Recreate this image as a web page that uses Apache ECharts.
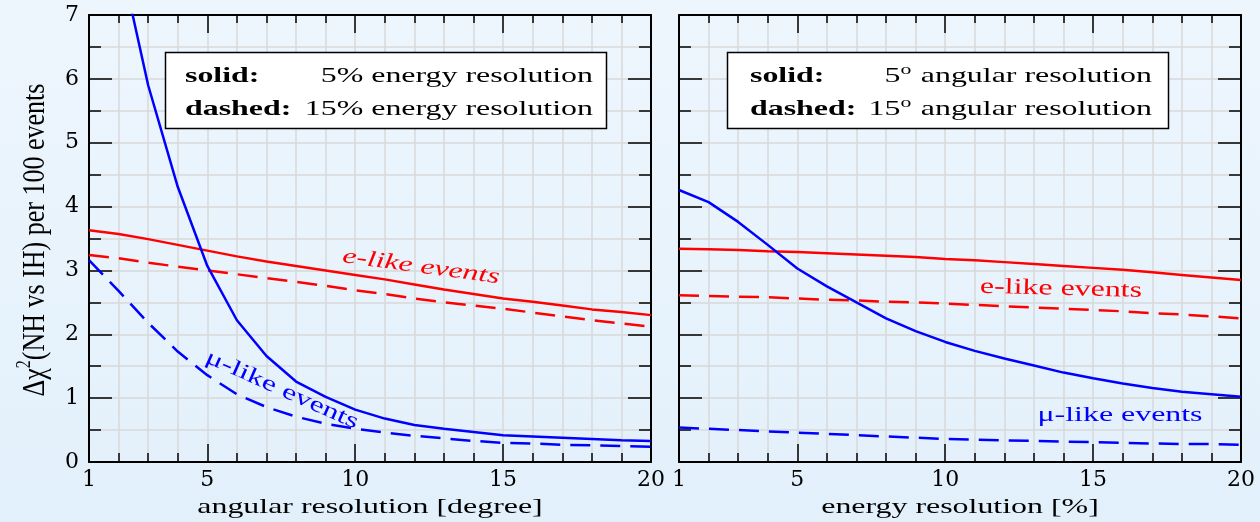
<!DOCTYPE html>
<html><head><meta charset="utf-8">
<script src="https://cdn.jsdelivr.net/npm/echarts@6/dist/echarts.min.js"></script>
<style>html,body{margin:0;padding:0;background:#e8f3fc}#c{width:1260px;height:522px}</style>
</head><body><div id="c"></div>
<script>
// ---- data ----
const resolution = [1,2,3,4,5,6,7,8,9,10,11,12,13,14,15,16,17,18,19,20];
// left panel: x = angular resolution [degree]
const angMuSolid  = [null,8.0,5.9,4.31,3.07,2.22,1.66,1.26,1.02,0.82,0.68,0.58,0.52,0.47,0.42,0.40,0.38,0.36,0.34,0.33];
const angMuDashed = [3.16,2.68,2.18,1.73,1.36,1.06,0.86,0.71,0.60,0.52,0.46,0.41,0.37,0.33,0.30,0.29,0.27,0.26,0.25,0.24];
const angESolid   = [3.63,3.57,3.49,3.40,3.31,3.22,3.14,3.07,3.00,2.93,2.86,2.78,2.70,2.63,2.56,2.51,2.45,2.39,2.35,2.30];
const angEDashed  = [3.24,3.19,3.12,3.06,3.00,2.94,2.88,2.82,2.76,2.69,2.63,2.56,2.50,2.45,2.40,2.34,2.28,2.22,2.17,2.12];
// right panel: x = energy resolution [%]
const enMuSolid   = [4.26,4.07,3.76,3.40,3.03,2.75,2.50,2.25,2.05,1.88,1.74,1.62,1.51,1.40,1.31,1.23,1.16,1.10,1.06,1.02];
const enMuDashed  = [0.54,0.52,0.50,0.48,0.46,0.44,0.42,0.40,0.38,0.36,0.35,0.34,0.33,0.32,0.31,0.30,0.29,0.28,0.28,0.27];
const enESolid    = [3.34,3.33,3.32,3.30,3.29,3.27,3.25,3.23,3.21,3.18,3.16,3.13,3.10,3.07,3.04,3.01,2.97,2.93,2.89,2.85];
const enEDashed   = [2.61,2.60,2.59,2.58,2.56,2.54,2.53,2.51,2.50,2.48,2.46,2.44,2.42,2.40,2.38,2.36,2.33,2.31,2.28,2.25];
const xLabelValues = [1,5,10,15,20];
const xMajorTicks = [5,10,15];
const xTitles = ['angular resolution [degree]','energy resolution [%]'];

const SERIF = '"Liberation Serif","Times New Roman",serif';
const WIDE = '"DejaVu Serif",serif';
const SX = 1.45; // horizontal stretch of the reference's lettering
const RED = '#ff0000', BLUE = '#0000ff', GRIDC = '#d9d9d9';
const pairs = ys => resolution.map((x,i)=>[x, ys[i]]);

const xAxes = [], yAxes = [];
[0,1].forEach(g=>{
  const base = {gridIndex:g, type:'value', min:1, max:20, interval:1};
  xAxes.push(Object.assign({}, base, {position:'bottom',
    axisLine:{show:true,onZero:false,lineStyle:{color:'#000',width:2}},
    axisTick:{inside:true,length:9,lineStyle:{color:'#000',width:1.5}},
    axisLabel:{show:false}, splitLine:{show:true,lineStyle:{color:GRIDC,width:1.5}}}));
  xAxes.push(Object.assign({}, base, {position:'bottom',
    axisLine:{show:false,onZero:false},
    axisTick:{inside:true,length:18,customValues:xMajorTicks,lineStyle:{color:'#000',width:1.5}},
    axisLabel:{customValues:xLabelValues,fontSize:22,fontFamily:WIDE,color:'#000',margin:7},
    splitLine:{show:false}}));
  xAxes.push(Object.assign({}, base, {position:'top',
    axisLine:{show:true,onZero:false,lineStyle:{color:'#000',width:2}},
    axisTick:{inside:true,length:8,lineStyle:{color:'#000',width:1.5}},
    axisLabel:{show:false}, splitLine:{show:false}}));
  xAxes.push(Object.assign({}, base, {position:'top',
    axisLine:{show:false,onZero:false},
    axisTick:{inside:true,length:18,customValues:xMajorTicks,lineStyle:{color:'#000',width:1.5}},
    axisLabel:{show:false}, splitLine:{show:false}}));
  const ybase = {gridIndex:g, type:'value', min:0, max:7, interval:1};
  yAxes.push(Object.assign({}, ybase, {position:'left',
    axisLine:{show:true,onZero:false,lineStyle:{color:'#000',width:2}},
    axisTick:{inside:true,length:23,lineStyle:{color:'#000',width:1.5}},
    minorTick:{show:true,splitNumber:2,length:12,lineStyle:{color:'#000',width:1.5}},
    splitLine:{show:true,lineStyle:{color:GRIDC,width:1.5}},
    minorSplitLine:{show:true,lineStyle:{color:GRIDC,width:1.5}},
    axisLabel:{show:g===0,fontSize:22,fontFamily:WIDE,color:'#000',margin:10}}));
  yAxes.push(Object.assign({}, ybase, {position:'right',
    axisLine:{show:true,onZero:false,lineStyle:{color:'#000',width:2}},
    axisTick:{inside:true,length:23,lineStyle:{color:'#000',width:1.5}},
    minorTick:{show:true,splitNumber:2,length:12,lineStyle:{color:'#000',width:1.5}},
    splitLine:{show:false}, axisLabel:{show:false}}));
});

function line(data, xi, yi, color, dashed){
  return {type:'line', xAxisIndex:xi, yAxisIndex:yi, data:pairs(data), symbol:'none',
    silent:true, animation:false, z:5,
    lineStyle:{color:color,width:2.5,type:dashed?[20,10]:'solid'}};
}

const txt = (x,y,text,opt,extra) => Object.assign({type:'text', x:x, y:y, z:120, scaleX:SX,
  style:Object.assign({text:text, fontSize:22, fontFamily:SERIF, fill:'#000', verticalAlign:'middle'}, opt||{})}, extra||{});
const supRich = {t:{fontSize:22,fontFamily:SERIF,fill:'#000'},s:{fontSize:15,fontFamily:SERIF,fill:'#000',padding:[0,1,12,0]}};
const deg = Math.PI/180;

const chart = echarts.init(document.getElementById('c'), null, {renderer:'canvas'});
chart.setOption({
  animation:false,
  backgroundColor:{type:'linear',x:0,y:0,x2:0,y2:1,colorStops:[{offset:0,color:'#eef6fd'},{offset:1,color:'#e2f0fb'}]},
  grid:[
    {left:89, right:609, top:15, bottom:60, outerBoundsMode:'none'},
    {left:679, right:19, top:15, bottom:60, outerBoundsMode:'none'}
  ],
  xAxis:xAxes, yAxis:yAxes,
  series:[
    line(angESolid,0,0,RED,false), line(angEDashed,0,0,RED,true),
    line(angMuSolid,0,0,BLUE,false), line(angMuDashed,0,0,BLUE,true),
    line(enESolid,4,2,RED,false), line(enEDashed,4,2,RED,true),
    line(enMuSolid,4,2,BLUE,false), line(enMuDashed,4,2,BLUE,true)
  ],
  graphic:[
    {type:'rect', z:110, shape:{x:165.5,y:52.5,width:441,height:76}, style:{fill:'#fff',stroke:'#000',lineWidth:1.5}},
    txt(185,76,'solid:',{fontWeight:'bold'}),
    txt(185,109,'dashed:',{fontWeight:'bold'}),
    txt(593,76,'5% energy resolution',{textAlign:'right'}),
    txt(593,109,'15% energy resolution',{textAlign:'right'}),
    {type:'rect', z:110, shape:{x:727.5,y:52.5,width:441,height:76}, style:{fill:'#fff',stroke:'#000',lineWidth:1.5}},
    txt(750,76,'solid:',{fontWeight:'bold'}),
    txt(750,109,'dashed:',{fontWeight:'bold'}),
    txt(1152,76,'{t|5}{s|o}{t| angular resolution}',{textAlign:'right',rich:supRich}),
    txt(1152,109,'{t|15}{s|o}{t| angular resolution}',{textAlign:'right',rich:supRich}),
    // axis titles
    txt(370,507,xTitles[0],{textAlign:'center'}),
    txt(960,507,xTitles[1],{textAlign:'center'}),
    {type:'text', x:35, y:240, rotation:90*deg, scaleY:1.25, z:120,
      style:{text:'{t|Δχ}{s|2}{t|(NH vs IH) per 100 events}', textAlign:'center', verticalAlign:'middle',
        rich:{t:{fontSize:26,fontFamily:SERIF,fill:'#000'},s:{fontSize:16,fontFamily:SERIF,fill:'#000',padding:[0,0,16,0]}}}},
    // curve annotations
    txt(421,267,'e-like events',{fill:RED,fontStyle:'italic',textAlign:'center'},{rotation:-7.7*deg}),
    txt(282,390,'μ-like events',{fill:BLUE,textAlign:'center'},{rotation:-24*deg}),
    txt(1061,289,'e-like events',{fill:RED,textAlign:'center'},{rotation:-1.5*deg}),
    txt(1120,415,'μ-like events',{fill:BLUE,textAlign:'center'})
  ]
});
</script></body></html>
